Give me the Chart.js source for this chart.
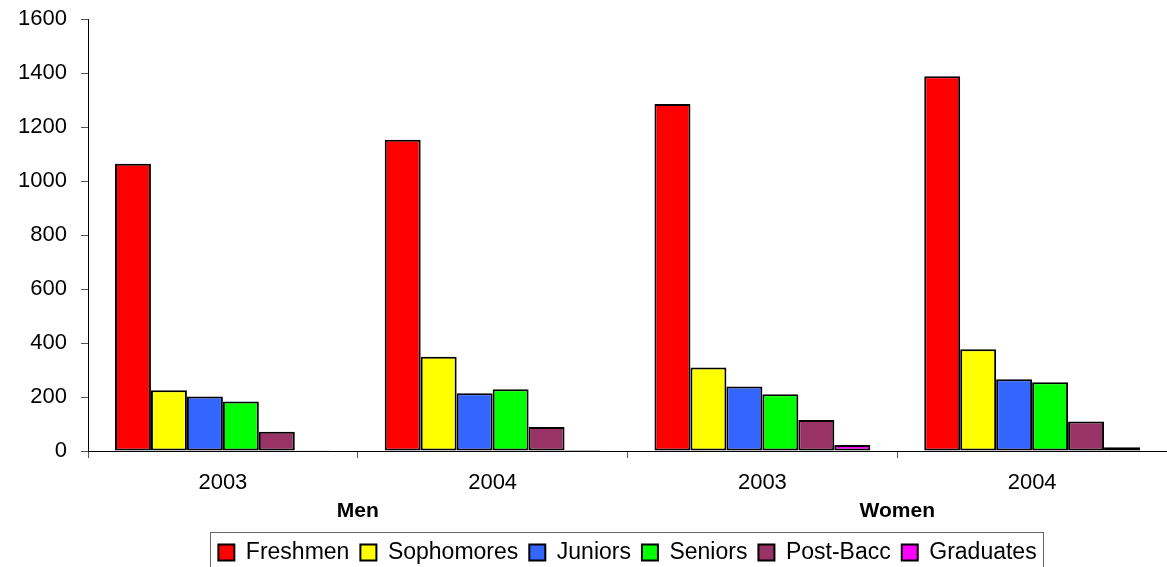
<!DOCTYPE html>
<html>
<head>
<meta charset="utf-8">
<script src="https://cdn.jsdelivr.net/npm/chart.js@4/dist/chart.umd.min.js"></script>
<style>
  body { margin: 0; background: #fff; }
  #wrap { width: 1167px; height: 567px; }
</style>
</head>
<body>
<div id="wrap"><canvas id="studentsChart" width="1167" height="567"></canvas></div>
<script>
const years = ["2003", "2004", "2003", "2004"];
const groups = ["Men", "Women"];
const yTicks = [0, 200, 400, 600, 800, 1000, 1200, 1400, 1600];

const freshmen = [1064, 1153, 1285, 1388];
const sophomores = [225, 349, 309, 377];
const juniors = [202, 214, 239, 266];
const seniors = [183, 229, 210, 255];
const postBacc = [71, 89, 115, 109];
const graduates = [3, 4, 22, 14];

const seriesNames = ["Freshmen", "Sophomores", "Juniors", "Seniors", "Post-Bacc", "Graduates"];
const seriesColors = ["#FF0000", "#FFFF00", "#3366FF", "#00FF00", "#993366", "#FF00FF"];
const seriesData = [freshmen, sophomores, juniors, seniors, postBacc, graduates];

const FONT = "Arial, 'Liberation Sans', sans-serif";

// frame around the legend items, like the original
const legendBox = {
  id: "legendBox",
  afterDraw(chart) {
    const lg = chart.legend;
    if (!lg || !lg.legendHitBoxes.length) return;
    const boxes = lg.legendHitBoxes;
    const left = Math.min(...boxes.map((b) => b.left)) - 8;
    const right = Math.max(...boxes.map((b) => b.left + b.width)) + 7;
    const top = boxes[0].top - 9;
    const bottom = boxes[0].top + boxes[0].height + 9;
    const ctx = chart.ctx;
    ctx.save();
    ctx.strokeStyle = "#666";
    ctx.lineWidth = 1;
    ctx.strokeRect(Math.round(left) + 0.5, Math.round(top) + 0.5, Math.round(right - left), Math.round(bottom - top));
    ctx.restore();
  },
};

const ctx = document.getElementById("studentsChart").getContext("2d");
new Chart(ctx, {
  type: "bar",
  data: {
    labels: years,
    datasets: seriesNames.map((name, i) => ({
      label: name,
      data: seriesData[i],
      backgroundColor: seriesColors[i],
      borderColor: "#000",
      borderWidth: 2,
      borderSkipped: false,
      categoryPercentage: 0.8,
      barPercentage: 1.0,
    })),
  },
  options: {
    responsive: false,
    animation: false,
    layout: { padding: { top: 2, right: 0, left: 0, bottom: -7 } },
    plugins: {
      tooltip: { enabled: false },
      legend: {
        position: "bottom",
        fullSize: false,
        labels: {
          color: "#000",
          font: { family: FONT, size: 23 },
          boxWidth: 16,
          boxHeight: 16,
          padding: 11,
          generateLabels(chart) {
            return chart.data.datasets.map((ds, i) => ({
              text: ds.label,
              fillStyle: ds.backgroundColor,
              strokeStyle: "#000",
              lineWidth: 2,
              datasetIndex: i,
            }));
          },
        },
      },
    },
    scales: {
      x: {
        border: { color: "#000", width: 1 },
        grid: { offset: true, drawOnChartArea: false, drawTicks: true, tickLength: 7, color: "#555" },
        ticks: { color: "#000", font: { family: FONT, size: 22 }, padding: 12 },
        afterFit(axis) {
          axis.height = 44;
        },
      },
      group: {
        type: "category",
        labels: groups,
        position: "bottom",
        border: { display: false },
        grid: { display: false, drawTicks: false, tickLength: 0 },
        ticks: { color: "#000", font: { family: FONT, size: 21, weight: "bold" }, padding: 4 },
        afterFit(axis) {
          axis.height = 35;
        },
      },
      y: {
        min: 0,
        max: 1600,
        border: { color: "#000", width: 1 },
        grid: { drawOnChartArea: false, drawTicks: true, tickLength: 7, color: "#555" },
        afterBuildTicks(axis) {
          axis.ticks = yTicks.map((v) => ({ value: v }));
        },
        afterFit(axis) {
          axis.width = 88;
          axis.paddingTop = 19;
        },
        ticks: {
          color: "#000",
          font: { family: FONT, size: 22 },
          padding: 14,
          callback: (v) => String(v),
        },
      },
    },
  },
  plugins: [legendBox],
});
</script>
</body>
</html>
